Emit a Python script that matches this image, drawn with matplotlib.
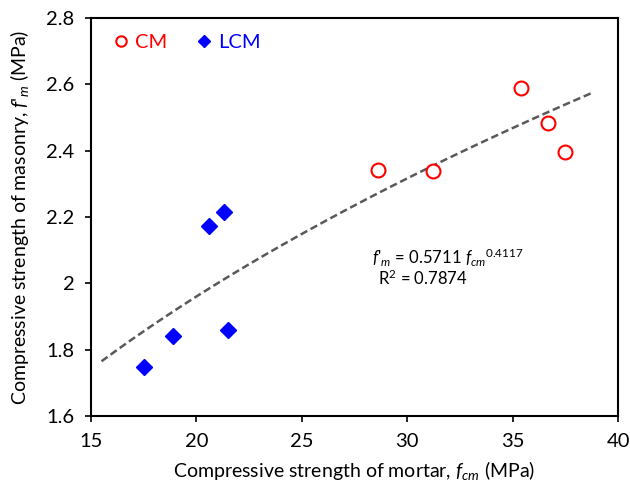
import matplotlib
matplotlib.use("Agg")
import matplotlib.pyplot as plt
import numpy as np

plt.rcParams['font.family'] = ['Lato', 'DejaVu Sans']
plt.rcParams['mathtext.fontset'] = 'custom'
plt.rcParams['mathtext.rm'] = 'Lato'
plt.rcParams['mathtext.it'] = 'Lato:italic'

cm_x = [28.6, 31.2, 35.4, 36.7, 37.5]
cm_y = [2.343, 2.338, 2.588, 2.485, 2.395]
lcm_x = [20.6, 21.3, 18.9, 21.5, 17.5]
lcm_y = [2.172, 2.214, 1.842, 1.860, 1.749]

fit_a = 0.5711
fit_b = 0.4117
fit_range = (15.5, 38.8)

xticks = [15, 20, 25, 30, 35, 40]
yticks = [1.6, 1.8, 2.0, 2.2, 2.4, 2.6, 2.8]
ytick_labels = ['1.6', '1.8', '2', '2.2', '2.4', '2.6', '2.8']

fig = plt.figure(figsize=(6.3, 4.88), dpi=100)
ax = fig.add_axes([0.1444, 0.1475, 0.8366, 0.8155])

xf = np.linspace(fit_range[0], fit_range[1], 200)
ax.plot(xf, fit_a * xf ** fit_b, linestyle=(0, (3, 1.5)), color='#595959', lw=1.8, zorder=2)

ax.plot(cm_x, cm_y, linestyle='none', marker='o', markersize=10, markerfacecolor='white',
        markeredgecolor='#ff0000', markeredgewidth=1.5, label='CM', zorder=3)
ax.plot(lcm_x, lcm_y, linestyle='none', marker='D', markersize=8, markerfacecolor='#0000ff',
        markeredgecolor='#0000ff', label='LCM', zorder=3)

ax.set_xlim(15, 40)
ax.set_ylim(1.6, 2.8)
ax.set_xticks(xticks)
ax.set_yticks(yticks)
ax.set_yticklabels(ytick_labels)
ax.tick_params(direction='out', length=4, width=1.2, labelsize=14.5, pad=8)
for s in ax.spines.values():
    s.set_linewidth(1.5)

ax.set_xlabel(r"Compressive strength of mortar, $\mathit{f}_{cm}$ (MPa)", fontsize=14, labelpad=7)
ax.set_ylabel(r"Compressive strength of masonry, $\mathit{f}$'$\mathit{{}_{m}}$ (MPa)",
              fontsize=14, labelpad=11)

ax.text(28.35, 2.077, r"$\mathit{f}$'$\mathit{{}_{m}}$ = 0.5711 $\mathit{f}_{cm}$$^{0.4117}$",
        fontsize=12, va='center', ha='left')
ax.text(30.75, 2.014, r"R$^{2}$ = 0.7874", fontsize=12, va='center', ha='center')

leg = ax.legend(loc='upper left', ncol=2, frameon=False, fontsize=14.5, handletextpad=0.1,
                columnspacing=1.2, markerscale=0.75, labelcolor='markeredgecolor',
                bbox_to_anchor=(0.0, 1.005), handlelength=1.2)

fig.savefig('out.png', dpi=100)
